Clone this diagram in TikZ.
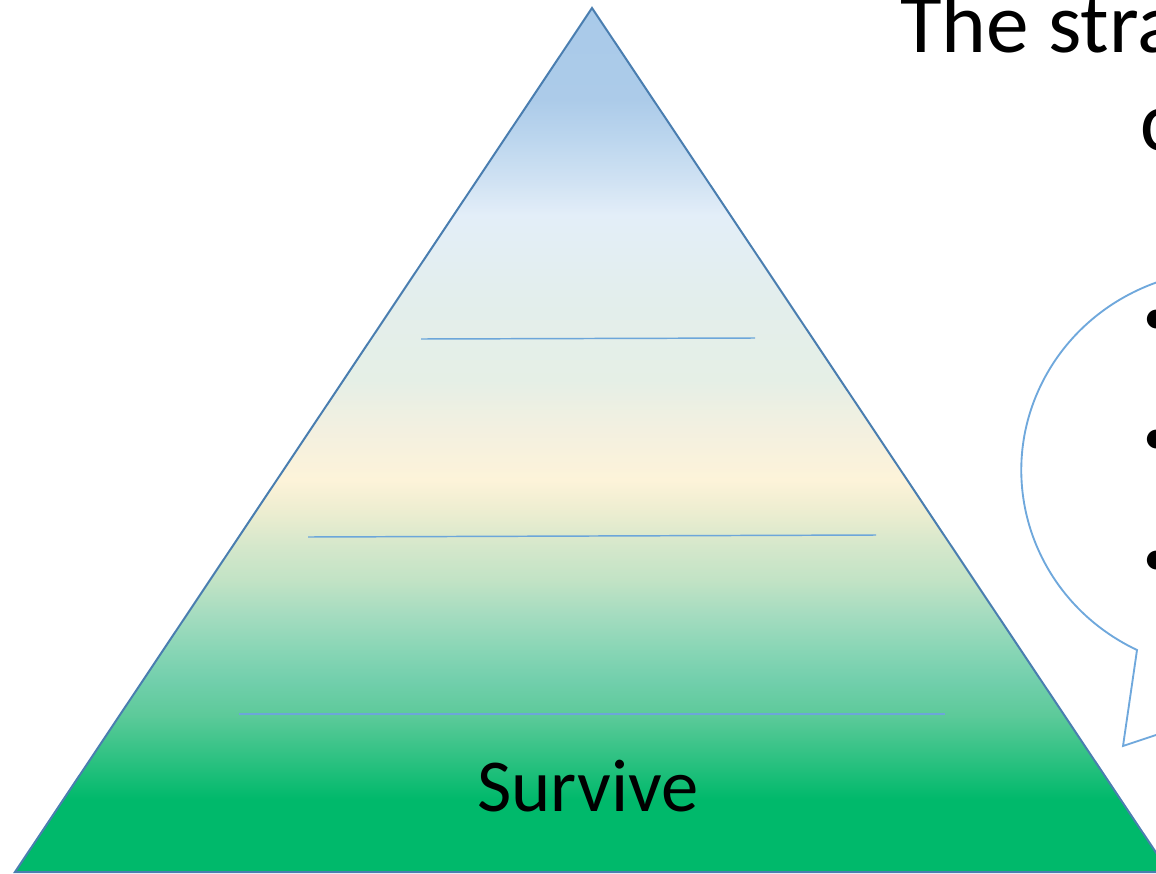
\documentclass[tikz,border=0pt]{standalone}
\usepackage{fontspec}
\setmainfont{Carlito}
\definecolor{pyrline}{HTML}{4A7EB0}
\definecolor{sepline}{HTML}{6CA6DA}
\definecolor{bubline}{HTML}{6FA8DC}
\definecolor{g0}{HTML}{00B96B}
\definecolor{g1}{HTML}{2CC181}
\definecolor{g2}{HTML}{5DCA9A}
\definecolor{g3}{HTML}{72CFAC}
\definecolor{g4}{HTML}{8AD6B6}
\definecolor{g5}{HTML}{A6DCC0}
\definecolor{g6}{HTML}{C2E3C5}
\definecolor{g7}{HTML}{D4E7CB}
\definecolor{y1}{HTML}{ECEDD0}
\definecolor{y2}{HTML}{FDF3D9}
\definecolor{y3}{HTML}{F3F0E0}
\definecolor{m1}{HTML}{E5EFE6}
\definecolor{m2}{HTML}{E3EEEC}
\definecolor{b1}{HTML}{E3EEF8}
\definecolor{b2}{HTML}{D0E2F3}
\definecolor{b3}{HTML}{BCD6EE}
\definecolor{b4}{HTML}{ACCBE9}
\definecolor{b5}{HTML}{A9CAE9}
\pgfdeclareverticalshading{pyrshade}{100bp}{
  color(0bp)=(g0); color(25bp)=(g0); color(29.2bp)=(g0); color(31.5bp)=(g1);
  color(34.1bp)=(g2); color(36.1bp)=(g3); color(38bp)=(g4); color(40bp)=(g5);
  color(41.9bp)=(g6); color(43.8bp)=(g7); color(45.8bp)=(y1); color(47.7bp)=(y2);
  color(50.6bp)=(y3); color(53.5bp)=(m1); color(58.1bp)=(m2); color(63bp)=(b1);
  color(65bp)=(b2); color(67.4bp)=(b3); color(69.7bp)=(b4); color(75bp)=(b5);
  color(100bp)=(b5)}
\tikzset{
  pyr/.style={draw=pyrline,line width=1.5pt,shade,shading=pyrshade},
  sep/.style={draw=sepline,line width=1.1pt},
  bub/.style={draw=bubline,line width=1.4pt,line join=miter},
  lb/.style={font=\fontsize{56}{60}\selectfont,inner sep=0pt},
  ttl/.style={font=\fontsize{64}{70}\selectfont,inner sep=0pt},
  blt/.style={font=\fontsize{40}{44}\selectfont,inner sep=0pt},
}
\begin{document}
\begin{tikzpicture}[x=0.75pt,y=-0.75pt]
\useasboundingbox (0,0) rectangle (1156,874);
\clip (0,0) rectangle (1156,874);
% pyramid
\coordinate (apex) at (592,8);
\coordinate (bl) at (15,872);
\coordinate (br) at (1169,872);
\path[pyr] (apex) -- (br) -- (bl) -- cycle;
% level separators
\coordinate (s1l) at (421,339);
\coordinate (s1r) at (755,338);
\coordinate (s2l) at (308,537);
\coordinate (s2r) at (876,535);
\coordinate (s3l) at (239,714);
\coordinate (s3r) at (945,714);
\draw[sep] (s1l) -- (s1r);
\draw[sep] (s2l) -- (s2r);
\draw[sep] (s3l) -- (s3r);
\node[lb,anchor=base] (surv) at (588,811) {Survive};
% title
\node[ttl,anchor=base west] (ttl1) at (900,53) {The stra};
\node[ttl,anchor=base west] (ttl2) at (1140,150) {c};
% callout
\coordinate (tip) at (1123,746);
\coordinate (tr) at (1195,722);
\coordinate (tl) at (1137,650);
\draw[bub] (tr) -- (tip) -- (tl) arc[start angle=116,end angle=290,x radius=206,y radius=200];
\node[blt] (bt1) at (1157,322) {\textbullet};
\node[blt] (bt2) at (1157,442) {\textbullet};
\node[blt] (bt3) at (1157,563) {\textbullet};
\end{tikzpicture}
\end{document}
